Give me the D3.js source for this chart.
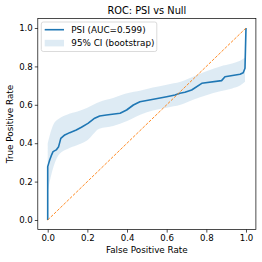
<!DOCTYPE html>
<html>
<head>
<meta charset="utf-8">
<script src="https://cdn.jsdelivr.net/npm/d3@7"></script>
<style>
  body { margin: 0; background: #fff; }
  text { font-family: "DejaVu Sans", sans-serif; fill: #000; }
</style>
</head>
<body>
<svg id="chart" width="262" height="262"></svg>
<script>
// ROC curve of PSI
var rocFpr = [0, 0, 0.005, 0.01, 0.018, 0.027, 0.043, 0.055, 0.066, 0.086, 0.111, 0.144, 0.17, 0.203, 0.237, 0.262, 0.296, 0.365, 0.398, 0.432, 0.465, 0.533, 0.6, 0.642, 0.667, 0.692, 0.726, 0.777, 0.877, 0.894, 0.97, 0.986, 0.995, 1.0];
var rocTpr = [0, 0.278, 0.295, 0.3125, 0.335, 0.356, 0.365, 0.382, 0.425, 0.443, 0.455, 0.469, 0.483, 0.503, 0.53, 0.542, 0.547, 0.556, 0.573, 0.599, 0.616, 0.629, 0.642, 0.651, 0.66, 0.665, 0.677, 0.712, 0.726, 0.746, 0.759, 0.767, 0.79, 1.0];
// bootstrap 95% band
var ciFpr = [0, 0.01, 0.03, 0.06, 0.1, 0.15, 0.2, 0.26, 0.33, 0.4, 0.47, 0.53, 0.6, 0.67, 0.73, 0.8, 0.87, 0.93, 0.97, 0.995];
var ciUpper = [0.40, 0.44, 0.50, 0.53, 0.55, 0.565, 0.585, 0.615, 0.635, 0.66, 0.675, 0.69, 0.705, 0.72, 0.745, 0.775, 0.80, 0.815, 0.83, 0.845];
var ciLower = [0.15, 0.20, 0.28, 0.345, 0.37, 0.39, 0.415, 0.475, 0.49, 0.515, 0.55, 0.57, 0.585, 0.6, 0.625, 0.65, 0.67, 0.685, 0.70, 0.72];
var ticks = [0, 0.2, 0.4, 0.6, 0.8, 1.0];

var svg = d3.select("#chart");
var mLeft = 37.8, mRight = 255.9, mTop = 18.4, mBottom = 229.6;

var x = d3.scaleLinear().domain([-0.05, 1.05]).range([mLeft, mRight]);
var y = d3.scaleLinear().domain([-0.05, 1.05]).range([mBottom, mTop]);

var band = ciFpr.map(function(d, i){ return {x: d, lo: ciLower[i], hi: ciUpper[i]}; });
svg.append("path")
    .datum(band)
    .attr("fill", "#1f77b4")
    .attr("fill-opacity", 0.15)
    .attr("d", d3.area()
        .curve(d3.curveMonotoneX)
        .x(function(d){ return x(d.x); })
        .y0(function(d){ return y(d.lo); })
        .y1(function(d){ return y(d.hi); }));

svg.append("path")
    .datum(rocFpr.map(function(d, i){ return [d, rocTpr[i]]; }))
    .attr("fill", "none")
    .attr("stroke", "#1f77b4")
    .attr("stroke-width", 1.6)
    .attr("stroke-linejoin", "round")
    .attr("d", d3.line().x(function(d){ return x(d[0]); }).y(function(d){ return y(d[1]); }));

svg.append("line")
    .attr("x1", x(0)).attr("y1", y(0))
    .attr("x2", x(1)).attr("y2", y(1))
    .attr("stroke", "#ff7f0e")
    .attr("stroke-width", 0.9)
    .attr("stroke-dasharray", "3,1.4");

// axes
var xAxis = svg.append("g")
    .attr("transform", "translate(0," + mBottom + ")")
    .call(d3.axisBottom(x).tickValues(ticks).tickFormat(d3.format(".1f")).tickSize(3).tickPadding(2));
var yAxis = svg.append("g")
    .attr("transform", "translate(" + mLeft + ",0)")
    .call(d3.axisLeft(y).tickValues(ticks).tickFormat(d3.format(".1f")).tickSize(3).tickPadding(2));
[xAxis, yAxis].forEach(function(a){
    a.select(".domain").remove();
    a.selectAll("line").attr("stroke", "#000").attr("stroke-width", 0.7);
    a.selectAll("text").style("font-family", "DejaVu Sans").style("font-size", "8.6px").attr("fill", "#000");
});

svg.append("rect")
    .attr("x", mLeft).attr("y", mTop)
    .attr("width", mRight - mLeft).attr("height", mBottom - mTop)
    .attr("fill", "none").attr("stroke", "#000").attr("stroke-width", 0.7);

// titles
svg.append("text").attr("x", (mLeft + mRight) / 2).attr("y", 13.5)
    .attr("text-anchor", "middle").attr("font-size", 9.8).text("ROC: PSI vs Null");
svg.append("text").attr("x", (mLeft + mRight) / 2).attr("y", 253)
    .attr("text-anchor", "middle").attr("font-size", 8.8).text("False Positive Rate");
svg.append("text")
    .attr("transform", "translate(13," + ((mTop + mBottom) / 2) + ") rotate(-90)")
    .attr("text-anchor", "middle").attr("font-size", 8.8).text("True Positive Rate");

// legend
var lg = svg.append("g");
lg.append("rect").attr("x", 41.3).attr("y", 22).attr("width", 115.5).attr("height", 29.5)
    .attr("rx", 2).attr("fill", "#fff").attr("fill-opacity", 0.8)
    .attr("stroke", "#ccc").attr("stroke-width", 0.7);
lg.append("line").attr("x1", 44.7).attr("x2", 64).attr("y1", 29.7).attr("y2", 29.7)
    .attr("stroke", "#1f77b4").attr("stroke-width", 1.6);
lg.append("rect").attr("x", 44.7).attr("y", 39.8).attr("width", 19.3).attr("height", 6.6)
    .attr("fill", "#1f77b4").attr("fill-opacity", 0.15);
lg.append("text").attr("x", 71.3).attr("y", 32.8).attr("font-size", 8.8).text("PSI (AUC=0.599)");
lg.append("text").attr("x", 71.3).attr("y", 46.2).attr("font-size", 8.8).text("95% CI (bootstrap)");
</script>
</body>
</html>
